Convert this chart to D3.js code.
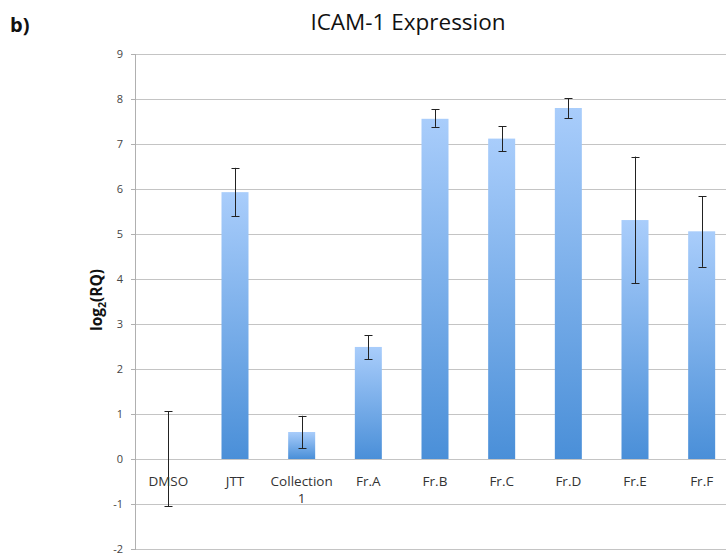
<!DOCTYPE html>
<html><head><meta charset="utf-8">
<script src="https://cdn.jsdelivr.net/npm/d3@7"></script>
<style>body{margin:0;background:#fff;}svg{display:block;}</style>
</head><body>
<script>
const categories = ["DMSO","JTT","Collection 1","Fr.A","Fr.B","Fr.C","Fr.D","Fr.E","Fr.F"];
const values = [0, 5.93, 0.60, 2.49, 7.56, 7.12, 7.80, 5.31, 5.06];
const errHigh = [1.06, 6.47, 0.96, 2.75, 7.77, 7.39, 8.02, 6.72, 5.84];
const errLow = [-1.05, 5.39, 0.24, 2.22, 7.38, 6.84, 7.57, 3.91, 4.27];
const yTicks = [-2,-1,0,1,2,3,4,5,6,7,8,9];

(function(){
const W = 726, H = 554;
const svg = d3.select("body").append("svg").attr("width", W).attr("height", H);
const pL = 135, pR = 735, pT = 54, pB = 549;

const x = d3.scaleBand().domain(categories).range([pL, pR]).paddingInner(0.595).paddingOuter(0.2975);
const y = d3.scaleLinear().domain([-2, 9]).range([pB, pT]);

const defs = svg.append("defs");
const g = defs.append("linearGradient").attr("id","barg").attr("x1",0).attr("y1",0).attr("x2",0).attr("y2",1);
g.append("stop").attr("offset","0%").attr("stop-color","#a9cdfb");
g.append("stop").attr("offset","100%").attr("stop-color","#4a8fd8");

// gridlines
svg.append("g").selectAll("line").data(yTicks).join("line")
  .attr("x1", pL).attr("x2", pR).attr("y1", d=>Math.round(y(d))+0.5).attr("y2", d=>Math.round(y(d))+0.5)
  .attr("stroke", "#c4c4c4").attr("stroke-width", 1);

// y axis
const yAxis = d3.axisLeft(y).tickValues(yTicks).tickSize(4).tickPadding(8).tickFormat(d=>String(d));
const ya = svg.append("g").attr("transform", `translate(${pL},0)`).call(yAxis);
ya.select(".domain").attr("stroke","#b0b0b0").attr("shape-rendering","crispEdges");
ya.selectAll(".tick line").attr("stroke","#b0b0b0").attr("shape-rendering","crispEdges");
ya.selectAll(".tick text").attr("font-family","'Open Sans', sans-serif").attr("font-size", 11).attr("fill","#444");

// bars
svg.append("g").selectAll("rect").data(categories).join("rect")
  .attr("x", d=>x(d)).attr("width", x.bandwidth())
  .attr("y", (d,i)=>y(Math.max(0, values[i])))
  .attr("height", (d,i)=>Math.abs(y(values[i]) - y(0)))
  .attr("fill", "url(#barg)");

// error bars
const eb = svg.append("g").attr("stroke","#222").attr("stroke-width",1);
categories.forEach((c,i)=>{
  const cx = Math.round(x(c) + x.bandwidth()/2) + 0.5;
  eb.append("line").attr("x1",cx).attr("x2",cx).attr("y1",y(errHigh[i])).attr("y2",y(errLow[i]));
  eb.append("line").attr("x1",cx-4).attr("x2",cx+4).attr("y1",Math.round(y(errHigh[i]))+0.5).attr("y2",Math.round(y(errHigh[i]))+0.5);
  eb.append("line").attr("x1",cx-4).attr("x2",cx+4).attr("y1",Math.round(y(errLow[i]))+0.5).attr("y2",Math.round(y(errLow[i]))+0.5);
});

// category labels
const cl = svg.append("g").attr("font-family","'Open Sans', sans-serif").attr("font-size",13.5).attr("fill","#333").attr("text-anchor","middle");
categories.forEach(c=>{
  const parts = c === "Collection 1" ? ["Collection","1"] : [c];
  parts.forEach((p,j)=>{
    cl.append("text").attr("x", x(c)+x.bandwidth()/2).attr("y", y(0)+27+j*17).text(p);
  });
});

// title
svg.append("text").attr("x", 408).attr("y", 30).attr("text-anchor","middle")
  .attr("font-family","'Open Sans', sans-serif").attr("font-size", 22.5).attr("fill","#111").text("ICAM-1 Expression");
svg.append("text").attr("x", 10).attr("y", 32)
  .attr("font-family","'Open Sans', sans-serif").attr("font-weight","bold").attr("font-size", 20).attr("fill","#111").text("b)");

// y label
const yl = svg.append("text").attr("transform", `translate(102,300) rotate(-90)`)
  .attr("text-anchor","middle").attr("font-family","'Open Sans', sans-serif").attr("font-weight","bold").attr("font-size",15.5).attr("fill","#111");
yl.append("tspan").text("log");
yl.append("tspan").attr("font-size",10.5).attr("dy",4).text("2");
yl.append("tspan").attr("dy",-4).text("(RQ)");
})();
</script>
</body></html>
